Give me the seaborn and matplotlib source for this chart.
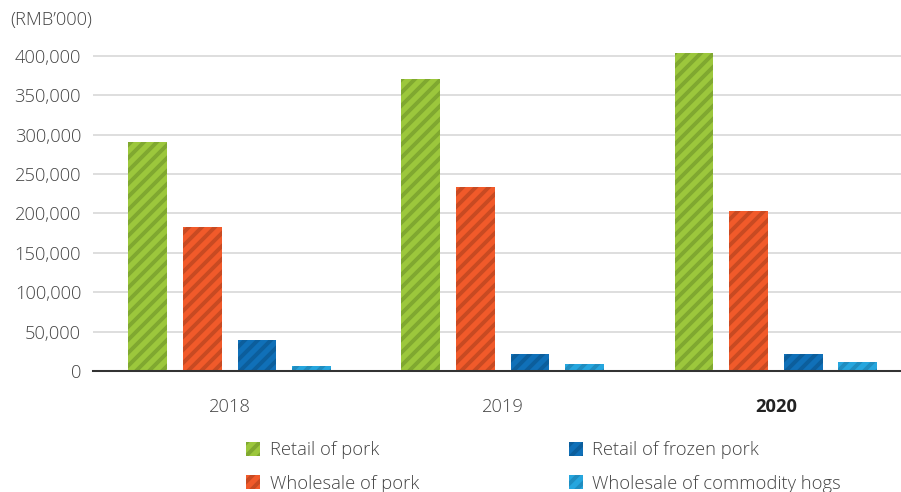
import matplotlib
matplotlib.use("Agg")
import matplotlib.pyplot as plt
import matplotlib.patches as mpatches
import seaborn as sns
import pandas as pd

years = ["2018", "2019", "2020"]
series_names = ["Retail of pork", "Wholesale of pork", "Retail of frozen pork",
                "Wholesale of commodity hogs"]
retail_pork = [290000, 370000, 404000]
wholesale_pork = [183000, 233000, 203000]
retail_frozen = [39000, 21500, 21500]
wholesale_hogs = [6500, 9000, 11000]
y_ticks = [0, 50000, 100000, 150000, 200000, 250000, 300000, 350000, 400000]

face_colors = ["#9cc73c", "#f15a2a", "#1070b8", "#26a6de"]
hatch_colors = ["#80a830", "#c84a22", "#0c5e9c", "#1f8dc0"]

rows = []
for name, vals in zip(series_names, [retail_pork, wholesale_pork, retail_frozen, wholesale_hogs]):
    for y, v in zip(years, vals):
        rows.append({"year": y, "series": name, "value": v})
df = pd.DataFrame(rows)

sns.set_style("white")
plt.rcParams["font.family"] = ["Open Sans", "DejaVu Sans"]
plt.rcParams["font.weight"] = "light"
plt.rcParams["hatch.linewidth"] = 3.6

FS = 17
DPI = 78
fig = plt.figure(figsize=(901 / DPI, 492 / DPI), dpi=DPI)
ax = fig.add_axes([93 / 901, 121 / 492, 819.5 / 901, 331 / 492])

sns.barplot(data=df, x="year", y="value", hue="series", order=years,
            hue_order=series_names, palette=face_colors, width=0.8, gap=0.29,
            ax=ax, legend=False, linewidth=0, saturation=1)

for i, cont in enumerate(ax.containers):
    for bar in cont:
        bar.set_hatch("//")
        bar.set_edgecolor(hatch_colors[i])
        bar.set_linewidth(0)

ax.set_xlim(-0.5, 2.5)
ax.set_ylim(0, 420000)
ax.set_yticks(y_ticks)
ax.set_yticklabels([f"{v:,}" for v in y_ticks])
ax.yaxis.grid(True, color="#d9d9d9", linewidth=1.6)
ax.set_axisbelow(True)
ax.set_xlabel("")
ax.set_ylabel("")

for s in ["top", "right", "left"]:
    ax.spines[s].set_visible(False)
ax.spines["bottom"].set_color("#333333")
ax.spines["bottom"].set_linewidth(1.9)

text_color = "#444444"
ax.tick_params(axis="y", length=0, pad=11, labelsize=FS, labelcolor=text_color)
ax.tick_params(axis="x", which="major", length=0, pad=25, labelsize=FS, labelcolor=text_color)
ax.set_xticks([-0.5, 0.5, 1.5], minor=True)
ax.tick_params(axis="x", which="minor", direction="in", length=7.5, width=1.9, color="#333333")
for lbl in ax.get_xticklabels():
    if lbl.get_text() == "2020":
        lbl.set_fontweight("bold")
        lbl.set_color("#222222")

fig.text(10 / 901, 1 - 20 / 492, "(RMB\u2019000)", fontsize=FS, color=text_color,
         ha="left", va="center")

handles = [mpatches.Patch(facecolor=fc, edgecolor=hc, hatch="//", linewidth=0, label=n)
           for fc, hc, n in zip(face_colors, hatch_colors, series_names)]
leg = fig.legend(handles=handles, ncol=2, loc="upper left",
                 bbox_to_anchor=(246 / 901, 1 - 441 / 492), frameon=False,
                 fontsize=FS, handlelength=0.78, handleheight=0.78, handletextpad=0.5,
                 columnspacing=8.15, labelspacing=0.85, borderaxespad=0, borderpad=0)
for t in leg.get_texts():
    t.set_color(text_color)

fig.savefig("out.png", dpi=DPI)
